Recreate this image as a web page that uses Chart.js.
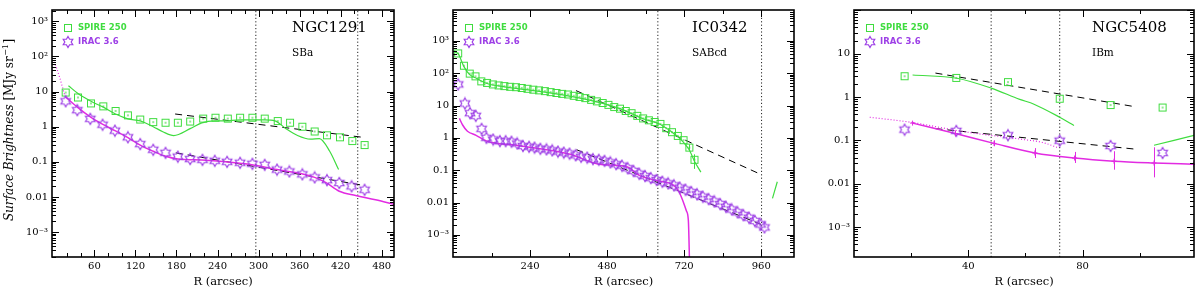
<!DOCTYPE html>
<html><head><meta charset="utf-8">
<script src="https://cdn.jsdelivr.net/npm/chart.js@4.4.1/dist/chart.umd.min.js"></script>
<style>
html,body{margin:0;padding:0;background:#fff;width:1200px;height:291px;overflow:hidden;}
canvas{position:absolute;top:0;}
</style></head><body>
<canvas id="c1" width="400" height="291" style="left:0px"></canvas>
<canvas id="c2" width="400" height="291" style="left:400px"></canvas>
<canvas id="c3" width="400" height="291" style="left:800px"></canvas>
<script>
// ---------- shared text ----------
const galaxies = ['NGC1291', 'IC0342', 'NGC5408'];
const morphTypes = ['SBa', 'SABcd', 'IBm'];
const seriesNames = ['SPIRE 250', 'IRAC 3.6'];
const xTitle = 'R (arcsec)';
const yTitleParts = ['Surface Brightness', ' [MJy sr', '\u22121', ']'];

// ---------- Panel 1: NGC1291 ----------
const p1XTicks = [60, 120, 180, 240, 300, 360, 420, 480];
const p1XLabels = ['60', '120', '180', '240', '300', '360', '420', '480'];
const p1YTicks = [1e3, 1e2, 10, 1, 0.1, 0.01, 1e-3];
const p1YLabels = ['10\u00b3', '10\u00b2', '10', '1', '0.1', '0.01', '10\u207b\u00b3'];
const p1SpireR = [18, 36, 55, 73, 91, 109, 127, 146, 164, 182, 200, 219, 237, 255, 273, 291, 309, 328, 346, 364, 382, 400, 419, 437, 455];
const p1SpireV = [9.4, 6.8, 4.6, 3.8, 2.8, 2.1, 1.6, 1.35, 1.3, 1.3, 1.4, 1.7, 1.8, 1.7, 1.8, 1.8, 1.7, 1.45, 1.3, 1.0, 0.73, 0.57, 0.5, 0.39, 0.3];
const p1SpireLineR = [22, 36, 55, 73, 91, 109, 127, 146, 160, 176, 200, 217, 236, 250, 273, 309, 324, 340, 357, 376, 389, 404, 417];
const p1SpireLineV = [14.7, 8.8, 5.3, 3.6, 2.3, 1.67, 1.47, 1.0, 0.72, 0.56, 0.88, 1.29, 1.47, 1.47, 1.57, 1.57, 1.47, 0.88, 0.56, 0.44, 0.46, 0.2, 0.06];
const p1IracR = [18, 35, 54, 72, 90, 109, 127, 146, 164, 182, 200, 218, 236, 254, 273, 291, 309, 327, 345, 364, 382, 400, 418, 436, 455];
const p1IracV = [5.3, 2.96, 1.67, 1.14, 0.77, 0.5, 0.32, 0.22, 0.18, 0.14, 0.12, 0.114, 0.107, 0.1, 0.094, 0.088, 0.082, 0.06, 0.053, 0.044, 0.036, 0.03, 0.025, 0.02, 0.016];
const p1IracLineR = [17, 35, 54, 71, 90, 109, 127, 146, 163, 182, 217, 252, 290, 327, 363, 382, 398, 418, 442, 471, 500];
const p1IracLineV = [7.3, 3.6, 1.9, 1.2, 0.77, 0.49, 0.3, 0.2, 0.146, 0.12, 0.112, 0.1, 0.083, 0.06, 0.046, 0.036, 0.026, 0.0145, 0.011, 0.0083, 0.006];
const p1IracInnerR = [1, 5, 9, 13, 17];
const p1IracInnerV = [70, 45, 26, 14, 7.3];
const p1Dash1R = [178, 452], p1Dash1V = [2.3, 0.5];
const p1Dash2R = [179, 452], p1Dash2V = [0.18, 0.0215];
const p1VLines = [296, 445];

// ---------- Panel 2: IC0342 ----------
const p2XTicks = [240, 480, 720, 960];
const p2XLabels = ['240', '480', '720', '960'];
const p2YTicks = [1e3, 1e2, 10, 1, 0.1, 0.01, 1e-3];
const p2YLabels = ['10\u00b3', '10\u00b2', '10', '1', '0.1', '0.01', '10\u207b\u00b3'];
const p2SpireR = [16, 34, 52, 70, 88, 106, 124, 142, 160, 178, 196, 214, 232, 250, 268, 286, 304, 322, 340, 358, 376, 394, 412, 430, 448, 466, 484, 502, 520, 538, 556, 574, 592, 610, 628, 646, 664, 682, 700, 718, 736, 752];
const p2SpireV = [410, 170, 97, 80, 56, 50, 45, 42, 40, 38, 37, 35, 33, 31, 29.5, 28, 26, 24.5, 23, 22, 20, 18.5, 17, 15, 13.5, 12, 10.5, 9, 8, 6.8, 5.8, 4.8, 4.0, 3.5, 3.1, 2.7, 2.0, 1.5, 1.15, 0.85, 0.5, 0.21];
const p2SpireErrR = [736, 752], p2SpireErrLo = [0.39, 0.11], p2SpireErrHi = [0.63, 0.31];
const p2SpireLineR = [5, 16, 34, 52, 70, 106, 160, 250, 358, 448, 520, 592, 646, 682, 700, 718, 736, 752, 772];
const p2SpireLineV = [450, 400, 160, 90, 72, 48, 38, 29, 20, 13, 8, 3.9, 2.6, 1.5, 1.1, 0.72, 0.42, 0.19, 0.087];
const p2SpireTailR = [995, 1010], p2SpireTailV = [0.0135, 0.044];
const p2IracR = [16, 37, 53, 71, 89, 104, 125, 146, 164, 182, 200, 218, 237, 254, 272, 291, 309, 327, 345, 363, 382, 399, 418, 436, 454, 472, 490, 508, 526, 544, 562, 580, 598, 616, 634, 652, 670, 688, 706, 724, 742, 760, 778, 796, 814, 832, 850, 868, 886, 904, 922, 940, 958, 970];
const p2IracV = [45, 11.6, 5.8, 4.8, 1.9, 1.0, 0.89, 0.79, 0.79, 0.76, 0.67, 0.56, 0.53, 0.5, 0.46, 0.44, 0.41, 0.376, 0.35, 0.326, 0.29, 0.26, 0.246, 0.22, 0.21, 0.195, 0.174, 0.154, 0.138, 0.115, 0.095, 0.078, 0.066, 0.057, 0.05, 0.044, 0.039, 0.034, 0.029, 0.025, 0.021, 0.018, 0.0152, 0.0128, 0.0108, 0.009, 0.0074, 0.0061, 0.005, 0.0041, 0.0034, 0.0027, 0.0021, 0.0017];
const p2IracLineR = [20, 30, 45, 72, 104, 208, 365, 455, 539, 582, 638, 684, 700, 714, 727, 733, 737];
const p2IracLineV = [4, 2.5, 1.6, 1.2, 0.8, 0.57, 0.31, 0.154, 0.13, 0.068, 0.047, 0.036, 0.025, 0.0127, 0.0055, 0.0028, 0.0001];
const p2Dash1R = [383, 955], p2Dash1V = [29, 0.077];
const p2Dash2R = [385, 960], p2Dash2V = [0.43, 0.0021];
const p2VLines = [638, 961];

// ---------- Panel 3: NGC5408 ----------
const p3XTicks = [40, 80];
const p3XLabels = ['40', '80'];
const p3YTicks = [10, 1, 0.1, 0.01, 1e-3];
const p3YLabels = ['10', '1', '0.1', '0.01', '10\u207b\u00b3'];
const p3SpireR = [17.7, 35.8, 53.9, 72, 89.8, 108];
const p3SpireV = [3.0, 2.75, 2.2, 0.91, 0.65, 0.57];
const p3SpireLineR = [20.5, 36, 48, 58, 63, 72, 77];
const p3SpireLineV = [3.2, 2.7, 1.6, 0.88, 0.68, 0.34, 0.22];
const p3SpireTailR = [105, 119], p3SpireTailV = [0.077, 0.13];
const p3IracR = [17.7, 35.8, 53.9, 72, 89.8, 108];
const p3IracV = [0.176, 0.165, 0.131, 0.098, 0.074, 0.051];
const p3IracDotR = [5.5, 20, 39, 59, 66, 71.3];
const p3IracDotV = [0.34, 0.26, 0.156, 0.105, 0.089, 0.068];
const p3IracLineR = [20.5, 35.5, 49, 63.3, 77.2, 91, 105, 119];
const p3IracLineV = [0.249, 0.143, 0.085, 0.051, 0.039, 0.033, 0.030, 0.028];
const p3IracErrLo = [0.238, 0.123, 0.073, 0.039, 0.030, 0.021, 0.014, 0.027];
const p3IracErrHi = [0.262, 0.168, 0.100, 0.066, 0.054, 0.056, 0.069, 0.029];
const p3Dash1R = [28.5, 97.4], p3Dash1V = [3.55, 0.61];
const p3Dash2R = [28.5, 98], p3Dash2V = [0.186, 0.063];
const p3VLines = [48, 72];

// ---------- styles ----------
const GREEN = '#3fdc3f';
const PURPLE = '#9d3fe6';
const MAGENTA = '#e22be2';
const SERIF = '"DejaVu Serif", serif';

function makeStar(color, r) {
  const s = Math.ceil(2 * r + 3);
  const c = document.createElement('canvas'); c.width = s; c.height = s;
  const g = c.getContext('2d');
  g.strokeStyle = color; g.lineWidth = 1.2;
  const cx = s / 2, cy = s / 2, ri = r / Math.sqrt(3);
  g.beginPath();
  for (let k = 0; k < 12; k++) {
    const a = -Math.PI / 2 + k * Math.PI / 6;
    const rr = k % 2 === 0 ? r : ri;
    const x = cx + rr * Math.cos(a), y = cy + rr * Math.sin(a);
    if (k) g.lineTo(x, y); else g.moveTo(x, y);
  }
  g.closePath(); g.stroke();
  return c;
}
function makeSquare(color, side, dot) {
  const s = side + 2;
  const c = document.createElement('canvas'); c.width = s; c.height = s;
  const g = c.getContext('2d');
  g.strokeStyle = color; g.lineWidth = 1;
  g.strokeRect(1.5, 1.5, side - 1, side - 1);
  if (dot) { g.fillStyle = color; g.fillRect(s / 2 - 0.75, s / 2 - 0.75, 1.5, 1.5); }
  return c;
}
const starImg = makeStar(PURPLE, 5.5);
const squareImg = makeSquare(GREEN, 8, true);
const squareLegImg = makeSquare(GREEN, 8, false);

function pts(R, V) { return R.map((r, i) => ({ x: r, y: V[i] })); }
function markers(R, V, img) {
  return { data: pts(R, V), showLine: false, pointStyle: img, pointRadius: 5, pointHoverRadius: 5 };
}
function line(R, V, color, width, dash) {
  return { data: pts(R, V), showLine: true, borderColor: color, borderWidth: width, borderDash: dash || [],
           pointRadius: 0, pointHoverRadius: 0, cubicInterpolationMode: 'monotone', fill: false };
}
function vline(xv, yMin, yMax) {
  return { data: [{ x: xv, y: yMin }, { x: xv, y: yMax }], showLine: true, borderColor: '#222', borderWidth: 1,
           borderDash: [1.2, 2.2], pointRadius: 0, tension: 0, fill: false };
}

const framePlugin = {
  id: 'frame',
  afterDraw(chart, args, o) {
    const { ctx, chartArea: a, scales: { x, y } } = chart;
    ctx.save();
    ctx.strokeStyle = '#000';
    ctx.lineWidth = 1;
    ctx.beginPath();
    const n = Math.floor(x.max / o.xStep);
    for (let i = 1; i <= n; i++) {
      const v = i * o.xStep;
      const px = Math.round(x.getPixelForValue(v)) + 0.5;
      const L = o.xMajor.includes(v) ? 7 : 4;
      ctx.moveTo(px, a.bottom); ctx.lineTo(px, a.bottom - L);
      ctx.moveTo(px, a.top); ctx.lineTo(px, a.top + L);
    }
    const d0 = Math.floor(Math.log10(y.min)), d1 = Math.ceil(Math.log10(y.max));
    for (let d = d0; d <= d1; d++) {
      for (let m = 1; m <= 9; m++) {
        const v = m * Math.pow(10, d);
        if (v < y.min * 1.0001 || v > y.max * 0.9999) continue;
        const py = Math.round(y.getPixelForValue(v)) + 0.5;
        const L = m === 1 ? 7 : 4;
        ctx.moveTo(a.left, py); ctx.lineTo(a.left + L, py);
        ctx.moveTo(a.right, py); ctx.lineTo(a.right - L, py);
      }
    }
    ctx.stroke();
    ctx.lineWidth = 1.6;
    ctx.strokeRect(a.left, a.top, a.right - a.left, a.bottom - a.top);
    ctx.restore();
  }
};

const errPlugin = {
  id: 'errbars',
  afterDatasetsDraw(chart, args, o) {
    const { ctx, scales: { x, y } } = chart;
    ctx.save();
    (o.sets || []).forEach(s => {
      ctx.strokeStyle = s.color; ctx.lineWidth = 1;
      ctx.beginPath();
      s.R.forEach((r, i) => {
        const px = Math.round(x.getPixelForValue(r)) + 0.5;
        ctx.moveTo(px, y.getPixelForValue(s.lo[i]));
        ctx.lineTo(px, y.getPixelForValue(s.hi[i]));
      });
      ctx.stroke();
    });
    ctx.restore();
  }
};

const textPlugin = {
  id: 'texts',
  afterDraw(chart, args, o) {
    const { ctx, chartArea: a } = chart;
    ctx.save();
    ctx.textBaseline = 'middle'; ctx.textAlign = 'left';
    ctx.fillStyle = '#000';
    ctx.font = '15px ' + SERIF; ctx.fillText(o.name, a.right - 102, 28);
    ctx.font = '10.5px ' + SERIF; ctx.fillText(o.type, a.right - 102, 53);
    ctx.drawImage(squareLegImg, Math.round(a.left + 16 - squareLegImg.width / 2), Math.round(28 - squareLegImg.height / 2));
    ctx.drawImage(starImg, Math.round(a.left + 16 - starImg.width / 2), Math.round(42 - starImg.height / 2));
    ctx.font = 'bold 8.5px "DejaVu Sans", sans-serif';
    ctx.fillStyle = GREEN; ctx.fillText(seriesNames[0], a.left + 26, 28);
    ctx.fillStyle = PURPLE; ctx.fillText(seriesNames[1], a.left + 26, 42);
    if (o.yTitle) {
      ctx.translate(10, 130); ctx.rotate(-Math.PI / 2);
      ctx.fillStyle = '#000';
      const fI = 'italic 12px ' + SERIF, fN = '12px ' + SERIF, fS = '8px ' + SERIF;
      ctx.font = fI; const w1 = ctx.measureText(yTitleParts[0]).width;
      ctx.font = fN; const w2 = ctx.measureText(yTitleParts[1]).width;
      ctx.font = fS; const w3 = ctx.measureText(yTitleParts[2]).width;
      ctx.font = fN; const w4 = ctx.measureText(yTitleParts[3]).width;
      let xx = -(w1 + w2 + w3 + w4 + 1) / 2;
      ctx.font = fI; ctx.fillText(yTitleParts[0], xx, 0); xx += w1;
      ctx.font = fN; ctx.fillText(yTitleParts[1], xx, 0); xx += w2;
      ctx.font = fS; ctx.fillText(yTitleParts[2], xx + 0.5, -4); xx += w3 + 1;
      ctx.font = fN; ctx.fillText(yTitleParts[3], xx, 0);
    }
    ctx.restore();
  }
};

function makeChart(id, p) {
  const tickFont = { family: SERIF, size: 10 };
  return new Chart(document.getElementById(id), {
    type: 'scatter',
    data: { datasets: p.datasets },
    options: {
      responsive: false, animation: false, events: [],
      layout: { padding: { left: 0, right: p.padRight, top: 3, bottom: 0 } },
      plugins: {
        legend: { display: false }, tooltip: { enabled: false },
        frame: { xStep: p.xStep, xMajor: p.xTicks },
        errbars: { sets: p.errs || [] },
        texts: { name: p.name, type: p.type, yTitle: p.yTitle }
      },
      scales: {
        x: {
          type: 'linear', min: p.xMin, max: p.xMax,
          grid: { display: false, drawTicks: false }, border: { display: false },
          afterBuildTicks: s => { s.ticks = p.xTicks.map(v => ({ value: v })); },
          afterFit: s => { s.height = 34; },
          ticks: { autoSkip: false, maxRotation: 0, padding: 3, font: tickFont, color: '#000',
                   callback: (v, i) => p.xLabels[i] },
          title: { display: true, text: xTitle, color: '#000', font: { family: SERIF, size: 11.5 },
                   padding: { top: 0, bottom: 2 } }
        },
        y: {
          type: 'logarithmic', min: p.yMin, max: p.yMax,
          grid: { display: false, drawTicks: false }, border: { display: false },
          afterBuildTicks: s => { s.ticks = p.yTicks.map(v => ({ value: v })); },
          afterFit: s => { s.width = p.leftW; },
          ticks: { autoSkip: false, padding: 4, font: tickFont, color: '#000',
                   callback: (v, i) => p.yLabels[i] }
        }
      }
    },
    plugins: [errPlugin, framePlugin, textPlugin]
  });
}

// Panel 1
makeChart('c1', {
  xMin: -2, xMax: 498, yMin: 1.95e-4, yMax: 2.1e3, xStep: 20, leftW: 52, padRight: 5,
  xTicks: p1XTicks, xLabels: p1XLabels, yTicks: p1YTicks, yLabels: p1YLabels,
  name: galaxies[0], type: morphTypes[0], yTitle: true,
  datasets: [
    markers(p1IracR, p1IracV, starImg),
    markers(p1SpireR, p1SpireV, squareImg),
    line(p1SpireLineR, p1SpireLineV, GREEN, 1.2),
    line(p1IracLineR, p1IracLineV, MAGENTA, 1.5),
    line(p1IracInnerR, p1IracInnerV, MAGENTA, 1.2, [1, 2]),
    line(p1Dash1R, p1Dash1V, '#000', 1, [7, 5]),
    line(p1Dash2R, p1Dash2V, '#000', 1, [7, 5]),
    vline(p1VLines[0], 1.95e-4, 2.1e3), vline(p1VLines[1], 1.95e-4, 2.1e3)
  ]
});

// Panel 2
makeChart('c2', {
  xMin: 0, xMax: 1062, yMin: 2.07e-4, yMax: 9e3, xStep: 120, leftW: 53, padRight: 5,
  xTicks: p2XTicks, xLabels: p2XLabels, yTicks: p2YTicks, yLabels: p2YLabels,
  name: galaxies[1], type: morphTypes[1], yTitle: false,
  errs: [{ R: p2SpireErrR, lo: p2SpireErrLo, hi: p2SpireErrHi, color: GREEN }],
  datasets: [
    markers(p2IracR, p2IracV, starImg),
    markers(p2SpireR, p2SpireV, squareImg),
    line(p2SpireLineR, p2SpireLineV, GREEN, 1.2),
    line(p2SpireTailR, p2SpireTailV, GREEN, 1.2),
    line(p2IracLineR, p2IracLineV, MAGENTA, 1.5),
    line(p2Dash1R, p2Dash1V, '#000', 1, [7, 5]),
    line(p2Dash2R, p2Dash2V, '#000', 1, [7, 5]),
    vline(p2VLines[0], 2.07e-4, 9e3), vline(p2VLines[1], 2.07e-4, 9e3)
  ]
});

// Panel 3
const p3IracLineDs = line(p3IracLineR, p3IracLineV, MAGENTA, 1.5);
p3IracLineDs.pointStyle = 'cross'; p3IracLineDs.pointRadius = 2.5; p3IracLineDs.pointBorderColor = MAGENTA; p3IracLineDs.pointBorderWidth = 1;
makeChart('c3', {
  xMin: 0, xMax: 119, yMin: 2.04e-4, yMax: 101, xStep: 20, leftW: 54, padRight: 3,
  xTicks: p3XTicks, xLabels: p3XLabels, yTicks: p3YTicks, yLabels: p3YLabels,
  name: galaxies[2], type: morphTypes[2], yTitle: false,
  errs: [{ R: p3IracLineR, lo: p3IracErrLo, hi: p3IracErrHi, color: MAGENTA }],
  datasets: [
    markers(p3IracR, p3IracV, starImg),
    markers(p3SpireR, p3SpireV, squareImg),
    line(p3SpireLineR, p3SpireLineV, GREEN, 1.2),
    line(p3SpireTailR, p3SpireTailV, GREEN, 1.2),
    p3IracLineDs,
    line(p3IracDotR, p3IracDotV, MAGENTA, 1.2, [1, 2]),
    line(p3Dash1R, p3Dash1V, '#000', 1, [7, 5]),
    line(p3Dash2R, p3Dash2V, '#000', 1, [7, 5]),
    vline(p3VLines[0], 2.04e-4, 101), vline(p3VLines[1], 2.04e-4, 101)
  ]
});
</script>
</body></html>
